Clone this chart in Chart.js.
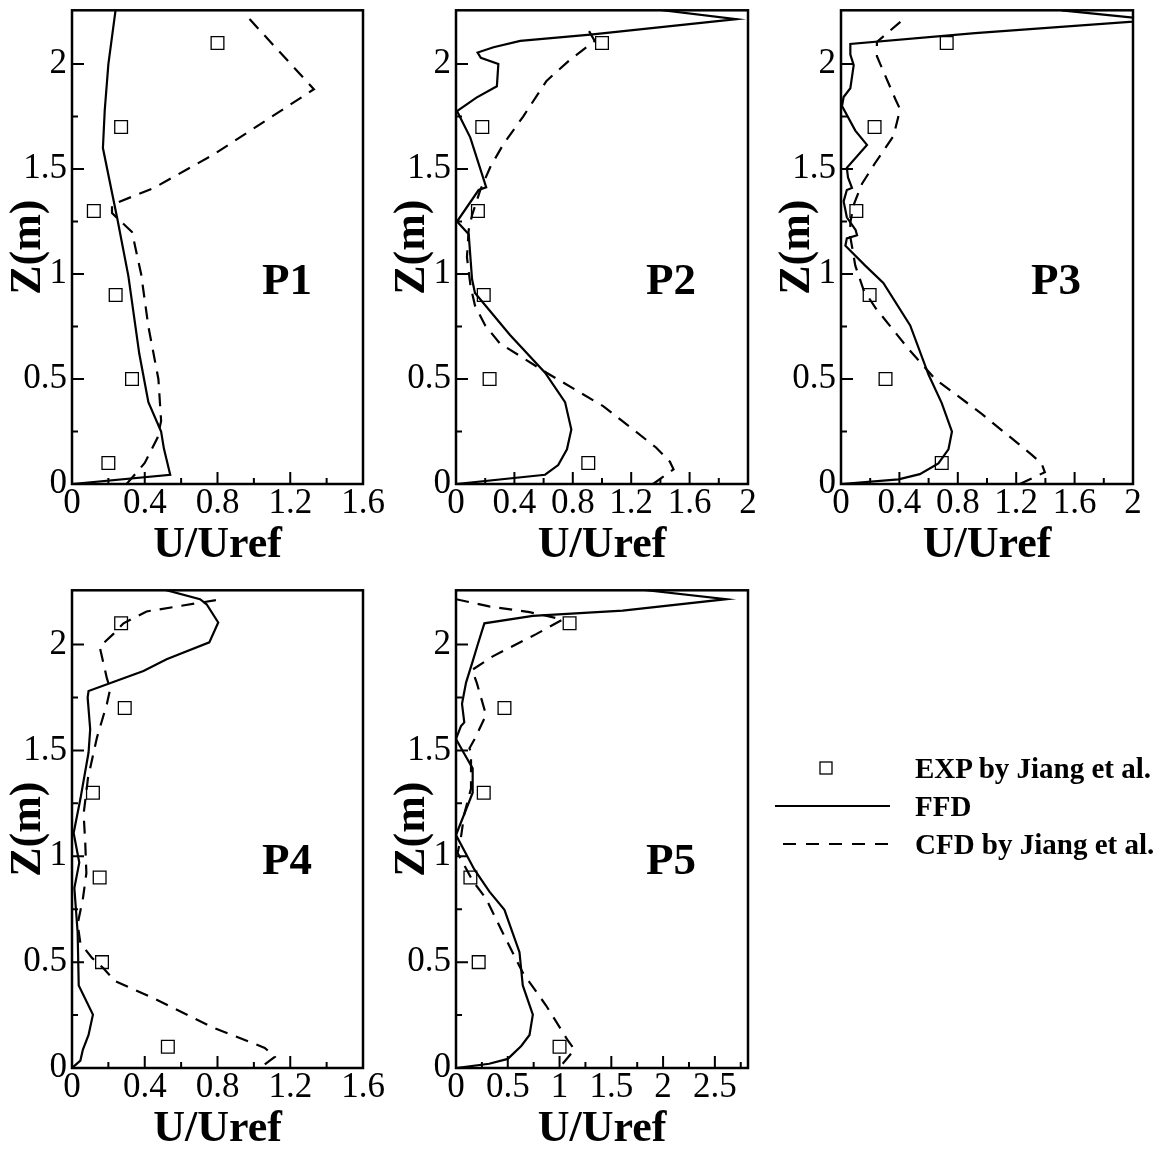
<!DOCTYPE html>
<html>
<head>
<meta charset="utf-8">
<script src="https://cdn.jsdelivr.net/npm/chart.js@4.4.1/dist/chart.umd.min.js"></script>
<style>
  html, body { margin: 0; padding: 0; background: #fff; }
  #wrap { position: relative; width: 1164px; height: 1156px; background: #fff; overflow: hidden; }
  #wrap canvas { position: absolute; }
  .leg { position: absolute; left: 915px; font: bold 29px "Liberation Serif", "Times New Roman", serif; line-height: 34px; color: #000; white-space: nowrap; }
</style>
</head>
<body>
<div id="wrap">
  <canvas id="p1" width="400" height="570" style="left:0;top:0"></canvas>
  <canvas id="p2" width="400" height="570" style="left:384px;top:0"></canvas>
  <canvas id="p3" width="395" height="570" style="left:769px;top:0"></canvas>
  <canvas id="p4" width="400" height="576" style="left:0;top:580px"></canvas>
  <canvas id="p5" width="400" height="576" style="left:384px;top:580px"></canvas>

  <svg width="1164" height="1156" style="position:absolute;left:0;top:0;pointer-events:none">
    <rect x="820" y="762" width="12" height="12" fill="none" stroke="#000" stroke-width="1.3"/>
    <line x1="775" y1="806" x2="890" y2="806" stroke="#000" stroke-width="2.2"/>
    <line x1="783" y1="844" x2="890" y2="844" stroke="#000" stroke-width="2.2" stroke-dasharray="13 10"/>
  </svg>
  <div class="leg" style="top:751px">EXP by Jiang et al.</div>
  <div class="leg" style="top:789px">FFD</div>
  <div class="leg" style="top:827px">CFD by Jiang et al.</div>
</div>

<script>
const SERIF = '"Liberation Serif", "Times New Roman", serif';

// ── Tick values / labels ────────────────────────────────────────────────────
const Y_TICKS      = [0, 0.5, 1, 1.5, 2];
const Y_LABELS     = ['0', '0.5', '1', '1.5', '2'];
const Y_MINOR      = [0.25, 0.75, 1.25, 1.75];

const X_TICKS_16   = [0, 0.4, 0.8, 1.2, 1.6];
const X_LABELS_16  = ['0', '0.4', '0.8', '1.2', '1.6'];
const X_MINOR_16   = [0.2, 0.6, 1.0, 1.4];

const X_TICKS_2    = [0, 0.4, 0.8, 1.2, 1.6, 2];
const X_LABELS_2   = ['0', '0.4', '0.8', '1.2', '1.6', '2'];
const X_MINOR_2    = [0.2, 0.6, 1.0, 1.4, 1.8];

const X_TICKS_28   = [0, 0.5, 1, 1.5, 2, 2.5];
const X_LABELS_28  = ['0', '0.5', '1', '1.5', '2', '2.5'];
const X_MINOR_28   = [0.25, 0.75, 1.25, 1.75, 2.25, 2.75];

// ── Data: U/Uref vs Z(m) ────────────────────────────────────────────────────
const EXP_Z = [0.1, 0.5, 0.9, 1.3, 1.7, 2.1];

// P1
const P1_EXP_U = [0.20, 0.33, 0.24, 0.12, 0.27, 0.80];
const P1_FFD_U = [0, 0.54, 0.505, 0.49, 0.42, 0.37, 0.31, 0.25, 0.17, 0.18, 0.20, 0.24];
const P1_FFD_Z = [0, 0.044, 0.17, 0.25, 0.39, 0.62, 0.99, 1.26, 1.60, 1.78, 2.0, 2.26];
const P1_CFD_U = [0.30, 0.40, 0.47, 0.49, 0.475, 0.42, 0.38, 0.33, 0.22, 0.22, 0.45, 0.78, 1.33, 0.97];
const P1_CFD_Z = [0.0, 0.10, 0.22, 0.30, 0.50, 0.75, 1.0, 1.2, 1.29, 1.33, 1.41, 1.57, 1.88, 2.22];

// P2
const P2_EXP_U = [0.906, 0.23, 0.19, 0.15, 0.18, 1.0];
const P2_FFD_U = [0, 0.61, 0.70, 0.76, 0.79, 0.747, 0.61, 0.37, 0.13, 0.11, 0.087, 0.007, 0.155, 0.207,
                  0.098, 0.007, 0.14, 0.28, 0.29, 0.17, 0.148, 0.257, 0.44, 0.92, 1.92, 1.37];
const P2_FFD_Z = [0, 0.044, 0.09, 0.165, 0.26, 0.39, 0.53, 0.71, 0.91, 0.975, 1.19, 1.25, 1.40, 1.413,
                  1.65, 1.776, 1.84, 1.894, 2.0, 2.03, 2.055, 2.08, 2.11, 2.14, 2.214, 2.26];
const P2_CFD_U = [1.35, 1.43, 1.49, 1.465, 1.37, 1.01, 0.62, 0.30, 0.20, 0.13, 0.10, 0.075, 0.087, 0.11,
                  0.166, 0.235, 0.326, 0.46, 0.62, 0.78, 0.95, 0.884];
const P2_CFD_Z = [0.0, 0.04, 0.07, 0.106, 0.174, 0.37, 0.53, 0.67, 0.755, 0.85, 0.94, 1.08, 1.21, 1.28,
                  1.40, 1.51, 1.62, 1.75, 1.92, 2.02, 2.11, 2.19];

// P3
const P3_EXP_U = [0.69, 0.305, 0.196, 0.105, 0.23, 0.724];
const P3_FFD_U = [0, 0.394, 0.54, 0.667, 0.736, 0.76, 0.69, 0.60, 0.474, 0.29, 0.166, 0.03, 0.04, 0.11,
                  0.10, 0.04, 0.018, 0.04, 0.075, 0.048, 0.04, 0.178, 0.098, 0.007, 0.018, 0.064, 0.087,
                  0.064, 0.064, 0.918, 2.16, 1.51];
const P3_FFD_Z = [0, 0.022, 0.047, 0.098, 0.165, 0.25, 0.385, 0.52, 0.755, 0.958, 1.04, 1.135, 1.17, 1.185,
                  1.21, 1.27, 1.346, 1.40, 1.41, 1.46, 1.506, 1.615, 1.683, 1.80, 1.843, 1.885, 1.995,
                  2.045, 2.096, 2.147, 2.21, 2.256];
const P3_CFD_U = [1.225, 1.396, 1.374, 1.305, 0.964, 0.645, 0.46, 0.235, 0.155, 0.098, 0.064, 0.064, 0.087,
                  0.144, 0.235, 0.36, 0.405, 0.371, 0.246, 0.246, 0.428];
const P3_CFD_Z = [0.0, 0.056, 0.098, 0.14, 0.334, 0.50, 0.645, 0.84, 0.924, 1.04, 1.177, 1.245, 1.33,
                  1.43, 1.53, 1.658, 1.784, 1.835, 2.037, 2.105, 2.214];

// P4
const P4_EXP_U = [0.527, 0.165, 0.152, 0.115, 0.29, 0.27];
const P4_FFD_U = [0, 0.046, 0.06, 0.091, 0.115, 0.037, 0.031, 0.013, 0.04, 0.009, 0.046, 0.091, 0.10,
                  0.086, 0.091, 0.393, 0.52, 0.755, 0.804, 0.74, 0.704, 0.503];
const P4_FFD_Z = [0, 0.035, 0.087, 0.156, 0.252, 0.39, 0.64, 0.85, 0.97, 1.11, 1.27, 1.49, 1.60,
                  1.75, 1.78, 1.875, 1.93, 2.01, 2.104, 2.19, 2.214, 2.26];
const P4_CFD_U = [1.06, 1.115, 1.06, 0.777, 0.448, 0.238, 0.174, 0.11, 0.046, 0.031, 0.06, 0.079, 0.073,
                  0.064, 0.088, 0.137, 0.192, 0.21, 0.192, 0.152, 0.228, 0.283, 0.41, 0.823];
const P4_CFD_Z = [0.017, 0.052, 0.095, 0.19, 0.33, 0.41, 0.47, 0.52, 0.59, 0.68, 0.80, 0.92, 1.06,
                  1.2, 1.37, 1.56, 1.72, 1.79, 1.84, 1.99, 2.05, 2.1, 2.156, 2.214];

// P5
const P5_EXP_U = [1.0, 0.219, 0.139, 0.268, 0.468, 1.097];
const P5_FFD_U = [0, 0.32, 0.5, 0.63, 0.71, 0.742, 0.645, 0.613, 0.468, 0.323, 0.177, 0, 0.161, 0.161,
                  0.08, 0, 0.048, 0.08, 0.058, 0.097, 0.161, 0.21, 0.274, 0.742, 1.61, 2.61, 1.774];
const P5_FFD_Z = [0, 0.02, 0.043, 0.104, 0.156, 0.252, 0.39, 0.547, 0.747, 0.833, 0.9375, 1.10, 1.30, 1.415,
                  1.484, 1.554, 1.615, 1.632, 1.72, 1.82, 1.92, 2.0, 2.1, 2.135, 2.16, 2.214, 2.26];
const P5_CFD_U = [1.03, 1.145, 1.08, 0.87, 0.645, 0.45, 0.29, 0.16, 0.016, 0.048, 0.08, 0.145, 0.145,
                  0.13, 0.187, 0.29, 0.2, 0.155, 0.355, 0.774, 1.03, 0.71, 0.32, 0];
const P5_CFD_Z = [0.02, 0.087, 0.13, 0.295, 0.45, 0.64, 0.80, 0.885, 1.015, 1.09, 1.2, 1.32, 1.49,
                  1.51, 1.56, 1.667, 1.82, 1.88, 1.944, 2.049, 2.118, 2.153, 2.18, 2.214];

const Z_MAX = 2.256;

function pts(us, zs) {
  return us.map((u, i) => ({ x: u, y: zs[i] }));
}

// Frame, inward tick marks (major + minor) and the panel name
const panelDecor = {
  id: 'panelDecor',
  afterDatasetsDraw(chart, args, opts) {
    const { ctx, chartArea: a, scales: { x, y } } = chart;
    ctx.save();
    ctx.strokeStyle = '#000';
    ctx.lineWidth = 2;
    ctx.beginPath();
    const xMark = (v, len) => {
      const px = x.getPixelForValue(v);
      ctx.moveTo(px, a.bottom); ctx.lineTo(px, a.bottom - len);
    };
    const yMark = (v, len) => {
      const py = y.getPixelForValue(v);
      ctx.moveTo(a.left, py); ctx.lineTo(a.left + len, py);
    };
    opts.xMajor.forEach((v) => xMark(v, 12));
    opts.xMinor.forEach((v) => xMark(v, 6));
    Y_TICKS.forEach((v) => yMark(v, 12));
    Y_MINOR.forEach((v) => yMark(v, 6));
    ctx.stroke();

    ctx.lineWidth = 2.5;
    ctx.strokeRect(a.left, a.top, a.right - a.left, a.bottom - a.top);

    ctx.fillStyle = '#000';
    ctx.font = 'bold 45px ' + SERIF;
    ctx.textAlign = 'center';
    ctx.textBaseline = 'middle';
    ctx.fillText(opts.label, a.left + 215, a.top + 272);
    ctx.restore();
  },
};

function makePanel(id, p) {
  const datasets = [
    {
      label: 'EXP by Jiang et al.',
      data: pts(p.expU, EXP_Z),
      showLine: false,
      pointStyle: 'rect',
      pointRadius: 9,
      pointBorderWidth: 1.3,
      pointBorderColor: '#000',
      pointBackgroundColor: 'rgba(0,0,0,0)',
    },
    {
      label: 'FFD',
      data: pts(p.ffdU, p.ffdZ),
      showLine: true,
      borderColor: '#000',
      borderWidth: 2.2,
      pointRadius: 0,
      tension: 0,
      fill: false,
    },
    {
      label: 'CFD by Jiang et al.',
      data: pts(p.cfdU, p.cfdZ),
      showLine: true,
      borderColor: '#000',
      borderWidth: 2.2,
      borderDash: [13, 9],
      pointRadius: 0,
      tension: 0,
      fill: false,
    },
  ];

  new Chart(document.getElementById(id), {
    type: 'scatter',
    data: { datasets },
    plugins: [panelDecor],
    options: {
      responsive: false,
      animation: false,
      events: [],
      layout: { padding: { left: 0, top: p.padTop, right: p.padRight, bottom: 0 } },
      plugins: {
        legend: { display: false },
        tooltip: { enabled: false },
        panelDecor: { label: p.label, xMajor: p.xTicks, xMinor: p.xMinor },
      },
      scales: {
        x: {
          type: 'linear',
          min: 0,
          max: p.xMax,
          grid: { display: false, drawTicks: false },
          border: { display: false },
          afterBuildTicks: (s) => { s.ticks = p.xTicks.map((v) => ({ value: v })); },
          afterFit: (s) => { s.height = p.xHeight; s.paddingLeft = 0; s.paddingRight = 0; },
          ticks: {
            color: '#000',
            autoSkip: false,
            maxRotation: 0,
            minRotation: 0,
            padding: 2,
            font: { family: SERIF, size: 35, lineHeight: 1 },
            callback: (v, i) => p.xLabels[i],
          },
          title: {
            display: true,
            text: 'U/Uref',
            color: '#000',
            padding: { top: 0, bottom: p.titlePad },
            font: { family: SERIF, size: 44, weight: 'bold', lineHeight: 1 },
          },
        },
        y: {
          type: 'linear',
          min: 0,
          max: Z_MAX,
          grid: { display: false, drawTicks: false },
          border: { display: false },
          afterBuildTicks: (s) => { s.ticks = Y_TICKS.map((v) => ({ value: v })); },
          afterFit: (s) => { s.width = 72; s.paddingTop = 0; s.paddingBottom = 0; },
          ticks: {
            color: '#000',
            autoSkip: false,
            padding: 5,
            font: { family: SERIF, size: 35, lineHeight: 1 },
            callback: (v, i) => Y_LABELS[i],
          },
          title: {
            display: true,
            text: 'Z(m)',
            color: '#000',
            padding: { top: 7, bottom: 0 },
            font: { family: SERIF, size: 44, weight: 'bold', lineHeight: 1 },
          },
        },
      },
    },
  });
}

makePanel('p1', {
  label: 'P1', expU: P1_EXP_U, ffdU: P1_FFD_U, ffdZ: P1_FFD_Z, cfdU: P1_CFD_U, cfdZ: P1_CFD_Z,
  xMax: 1.6, xTicks: X_TICKS_16, xLabels: X_LABELS_16, xMinor: X_MINOR_16,
  padTop: 7, padRight: 37, xHeight: 86, titlePad: 2,
});
makePanel('p2', {
  label: 'P2', expU: P2_EXP_U, ffdU: P2_FFD_U, ffdZ: P2_FFD_Z, cfdU: P2_CFD_U, cfdZ: P2_CFD_Z,
  xMax: 2, xTicks: X_TICKS_2, xLabels: X_LABELS_2, xMinor: X_MINOR_2,
  padTop: 7, padRight: 36, xHeight: 86, titlePad: 2,
});
makePanel('p3', {
  label: 'P3', expU: P3_EXP_U, ffdU: P3_FFD_U, ffdZ: P3_FFD_Z, cfdU: P3_CFD_U, cfdZ: P3_CFD_Z,
  xMax: 2, xTicks: X_TICKS_2, xLabels: X_LABELS_2, xMinor: X_MINOR_2,
  padTop: 7, padRight: 31, xHeight: 86, titlePad: 2,
});
makePanel('p4', {
  label: 'P4', expU: P4_EXP_U, ffdU: P4_FFD_U, ffdZ: P4_FFD_Z, cfdU: P4_CFD_U, cfdZ: P4_CFD_Z,
  xMax: 1.6, xTicks: X_TICKS_16, xLabels: X_LABELS_16, xMinor: X_MINOR_16,
  padTop: 10, padRight: 37, xHeight: 88, titlePad: 4,
});
makePanel('p5', {
  label: 'P5', expU: P5_EXP_U, ffdU: P5_FFD_U, ffdZ: P5_FFD_Z, cfdU: P5_CFD_U, cfdZ: P5_CFD_Z,
  xMax: 2.82, xTicks: X_TICKS_28, xLabels: X_LABELS_28, xMinor: X_MINOR_28,
  padTop: 10, padRight: 36, xHeight: 88, titlePad: 4,
});
</script>
</body>
</html>
